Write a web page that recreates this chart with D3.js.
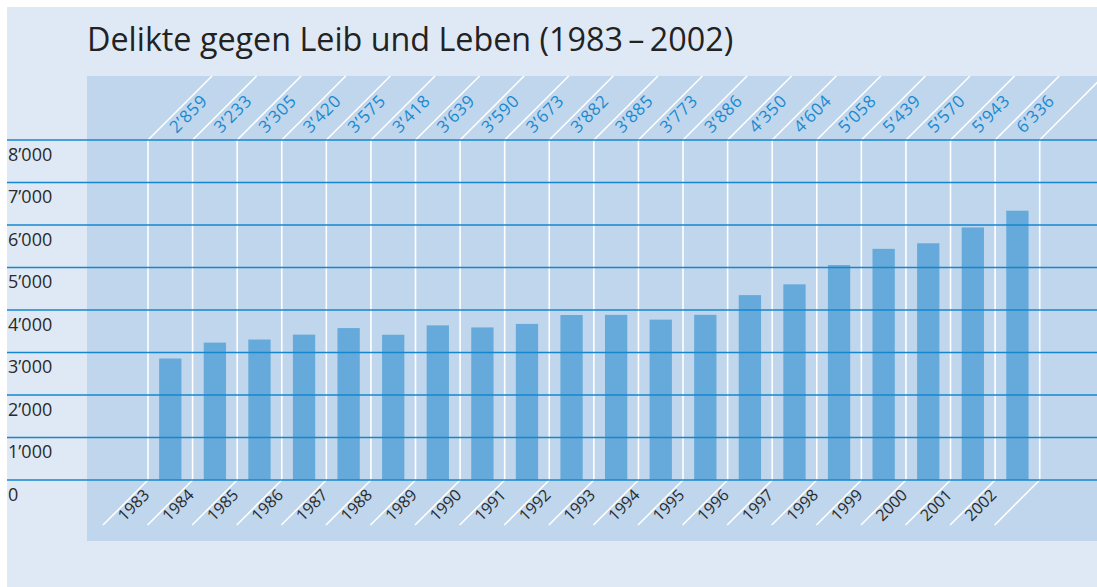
<!DOCTYPE html>
<html>
<head>
<meta charset="utf-8">
<script src="https://cdn.jsdelivr.net/npm/d3@7"></script>
<style>
  body { margin: 0; background: #fff; }
  text { font-family: "Open Sans", sans-serif; }
</style>
</head>
<body>
<svg id="chart" width="1097" height="587"></svg>
<script>
const title = "Delikte gegen Leib und Leben (1983\u2009\u2013\u20092002)";
const years = ["1983", "1984", "1985", "1986", "1987", "1988", "1989", "1990", "1991", "1992",
               "1993", "1994", "1995", "1996", "1997", "1998", "1999", "2000", "2001", "2002"];
const values = [2859, 3233, 3305, 3420, 3575, 3418, 3639, 3590, 3673, 3882,
                3885, 3773, 3886, 4350, 4604, 5058, 5439, 5570, 5943, 6336];
const yTicks = [0, 1000, 2000, 3000, 4000, 5000, 6000, 7000, 8000];

// Swiss style thousands separator
const fmt = v => {
    const s = String(v);
    return s.length > 3 ? s.slice(0, -3) + "\u2019" + s.slice(-3) : s;
};

const svg = d3.select("#chart");
const W = 1097, H = 587;

const plotTop = 140, plotBottom = 480;
const panel = { x: 87, y: 76, w: W - 87, h: 541 - 76 };

const x = d3.scaleBand().domain(years).range([148, 1039.7]);
const y = d3.scaleLinear().domain([0, 8000]).range([plotBottom, plotTop]);

// backgrounds
svg.append("rect").attr("x", 7).attr("y", 7).attr("width", W - 7).attr("height", H - 7)
    .attr("fill", "#dfe9f5");
svg.append("rect").attr("x", panel.x).attr("y", panel.y).attr("width", panel.w).attr("height", panel.h)
    .attr("fill", "#bfd6ed");

svg.append("text")
    .attr("x", 87).attr("y", 51)
    .attr("font-size", 32.3)
    .attr("fill", "#222")
    .text(title);

// column boundaries
const bounds = years.map(d => x(d)).concat([x.range()[1]]);

const sep = svg.append("g").attr("stroke", "#fff").attr("stroke-width", 1.6).attr("fill", "none");
sep.selectAll(".v").data(bounds).enter().append("line")
    .attr("x1", d => d).attr("x2", d => d)
    .attr("y1", plotTop).attr("y2", plotBottom);
// diagonals above the plot
const upLen = plotTop - panel.y;
sep.selectAll(".dt").data(bounds).enter().append("line")
    .attr("x1", d => d).attr("y1", plotTop)
    .attr("x2", d => d + upLen).attr("y2", panel.y);
// diagonals below the plot
sep.selectAll(".db").data(bounds).enter().append("line")
    .attr("x1", d => d).attr("y1", plotBottom)
    .attr("x2", d => d - 45).attr("y2", plotBottom + 45);

// bars
const bw = x.bandwidth() * 0.5;
svg.append("g").selectAll("rect").data(values).enter().append("rect")
    .attr("x", (d, i) => x(years[i]) + (x.bandwidth() - bw) / 2)
    .attr("y", d => y(d))
    .attr("width", bw)
    .attr("height", d => plotBottom - y(d))
    .attr("fill", "#66aadb");

// gridlines
svg.append("g").selectAll("line").data(yTicks).enter().append("line")
    .attr("x1", 7).attr("x2", W)
    .attr("y1", d => y(d)).attr("y2", d => y(d))
    .attr("stroke", "#1587cc").attr("stroke-width", 1.4);

// y labels
svg.append("g").selectAll("text").data(yTicks).enter().append("text")
    .attr("x", 8).attr("y", d => y(d) + 20.5)
    .attr("font-size", 18)
    .attr("fill", "#2a2a2a")
    .text(d => fmt(d));

// value labels (top, rotated)
svg.append("g").selectAll("text").data(values).enter().append("text")
    .attr("transform", (d, i) => `translate(${x(years[i]) + 28.5},${plotTop - 6}) rotate(-45)`)
    .attr("font-size", 17)
    .attr("letter-spacing", 0.7)
    .attr("fill", "#1a8ad0")
    .text(d => fmt(d));

// year labels (bottom, rotated)
svg.append("g").selectAll("text").data(years).enter().append("text")
    .attr("transform", d => `translate(${x(d) - 23.5},${plotBottom + 42}) rotate(-45)`)
    .attr("font-size", 16)
    .attr("fill", "#2a2a2a")
    .text(d => d);
</script>
</body>
</html>
